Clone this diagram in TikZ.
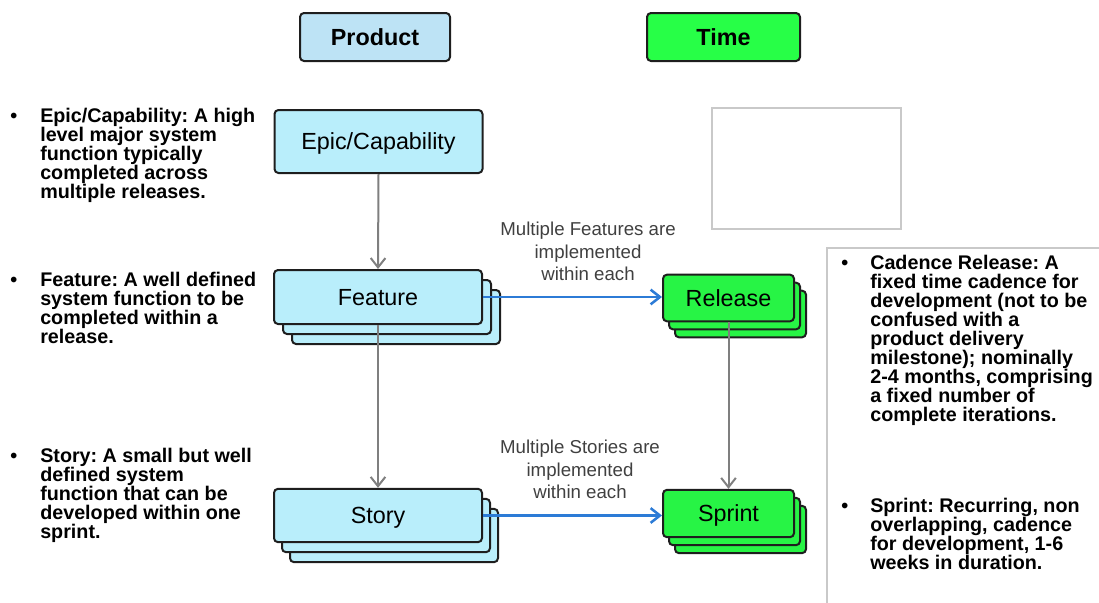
\documentclass[tikz,border=0pt]{standalone}
\usepackage{fontspec}
\setmainfont{Liberation Sans}
\usetikzlibrary{arrows.meta}
\frenchspacing

\definecolor{edge}{HTML}{1E1E1E}
\definecolor{cardblue}{HTML}{B9EEFB}
\definecolor{headblue}{HTML}{BDE3F5}
\definecolor{cardgreen}{HTML}{27F445}
\definecolor{headgreen}{HTML}{27FF47}
\definecolor{glowgreen}{HTML}{33FF52}
\definecolor{captiongray}{HTML}{404040}
\definecolor{linkgray}{HTML}{7F7F7F}
\definecolor{flowblue}{HTML}{2C7BD6}
\definecolor{framegray}{HTML}{C9C9C9}

\begin{document}
\begin{tikzpicture}[x=0.75pt,y=-0.75pt,
  card/.style={draw=edge, line width=1.5pt, rounded corners=3pt, inner sep=0pt,
    text height=14.9pt, text depth=2.35pt},
  prodcard/.style={card, fill=cardblue, minimum width=156pt,
    font=\fontsize{17.5}{20}\selectfont},
  timecard/.style={card, fill=cardgreen, minimum width=98.25pt,
    font=\fontsize{17.5}{20}\selectfont},
  head/.style={card, minimum height=36pt, font=\bfseries\fontsize{17.5}{20}\selectfont},
  link/.style={draw=linkgray, line width=1.5pt, -{Straight Barb[length=7pt,width=11pt]}},
  flow/.style={draw=flowblue, line width=1.9pt, -{Straight Barb[length=7pt,width=11pt]}},
  note/.style={anchor=north west, align=left, inner sep=0pt,
    font=\bfseries\fontsize{14.8}{14.25}\selectfont},
  dot/.style={anchor=base west, inner sep=0pt, font=\bfseries\fontsize{14.8}{14.25}\selectfont},
  caption/.style={anchor=north, align=center, inner sep=0pt, text=captiongray,
    font=\fontsize{14}{16.9}\selectfont},
  frame/.style={draw=framegray, line width=0.9pt}]
\useasboundingbox (0,0) rectangle (1099,603);

% column headers
\node[head, fill=headblue, minimum width=112.5pt] (product) at (375,37) {Product};
\node[head, fill=headgreen, minimum width=114.75pt] (time) at (723.5,37) {Time};

% product hierarchy
\node[prodcard, minimum height=47.25pt] (epic) at (378.5,141.5) {Epic/Capability};

\node[prodcard, minimum height=40.5pt] (feat3) at (396,317) {};
\node[prodcard, minimum height=40.5pt] (feat2) at (387,307) {};
\node[prodcard, minimum height=40.5pt] (feat) at (378,297) {Feature};

\node[prodcard, minimum height=40pt] (story3) at (394,535.5) {};
\node[prodcard, minimum height=40pt] (story2) at (386,525.5) {};
\node[prodcard, minimum height=40pt] (story) at (378,515.5) {Story};

% time hierarchy
\node[timecard, minimum height=35pt] (rel3) at (740.5,314) {};
\node[timecard, minimum height=35pt] (rel2) at (734.5,306) {};
\node[timecard, minimum height=35pt] (rel) at (728.5,298) {Release};

\node[timecard, minimum height=35.5pt] (sprint3) at (740.5,529.5) {};
\node[timecard, minimum height=35.5pt] (sprint2) at (734.5,521.5) {};
\node[timecard, minimum height=35.5pt,
  path picture={\fill[glowgreen] (673,492) rectangle (775,533);}] (sprint) at (728.5,513.5) {Sprint};

% decomposition links
\draw[link] (epic.south) -- (feat.north);
\draw[link] (feat.south) -- (story.north);
\draw[link] (rel.south) -- (sprint.north);

% implementation flows
\draw[flow] (feat.east) -- (feat.east -| rel.west);
\draw[flow] (story.east) -- (story.east -| sprint.west);
\node[caption] (capfeat) at (588,222) {Multiple Features are\\implemented\\within each};
\node[caption] (capstory) at (580,440) {Multiple Stories are\\implemented\\within each};

% empty frame and side panel
\draw[frame] (712,108) rectangle (901,229);
\draw[frame] (827,603) -- (827,248) -- (1099,248);

% left descriptions
\node[dot] (b1) at (10,122) {•};
\node[note] (n1) at (40,108) {Epic/Capability: A high\\level major system\\function typically\\completed across\\multiple releases.};
\node[dot] (b2) at (10,286) {•};
\node[note] (n2) at (40,272) {Feature: A well defined\\system function to be\\completed within a\\release.};
\node[dot] (b3) at (10,462) {•};
\node[note] (n3) at (40,448) {Story: A small but well\\defined system\\function that can be\\developed within one\\sprint.};

% right descriptions
\node[dot] (b4) at (841,269) {•};
\node[note] (n4) at (870,255) {Cadence Release: A\\fixed time cadence for\\development (not to be\\confused with a\\product delivery\\milestone); nominally\\2-4 months, comprising\\a fixed number of\\complete iterations.};
\node[dot] (b5) at (841,512) {•};
\node[note] (n5) at (870,498) {Sprint: Recurring, non\\overlapping, cadence\\for development, 1-6\\weeks in duration.};
\end{tikzpicture}
\end{document}
